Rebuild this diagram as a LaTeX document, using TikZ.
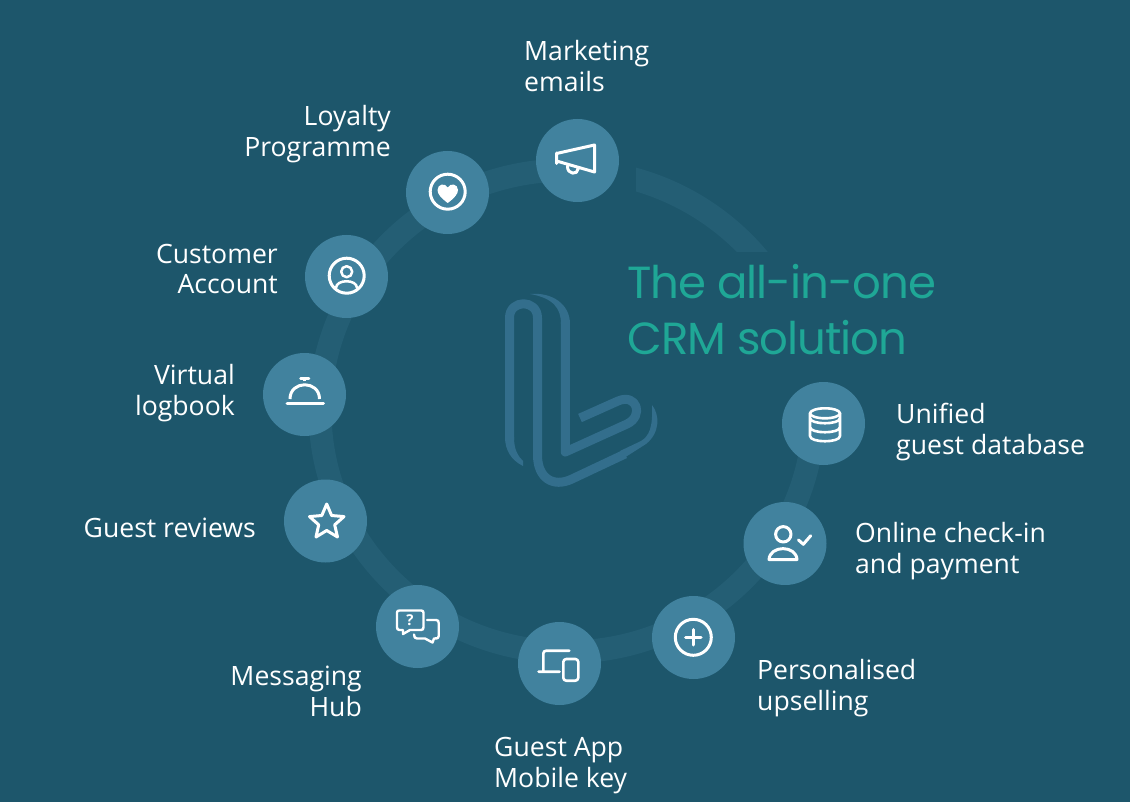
\documentclass[tikz,border=0pt]{standalone}
\usepackage{fontspec}
\setmainfont{Open Sans}
\newfontfamily\titlefont{Poppins}[LetterSpace=-2.2]
\definecolor{bgc}{RGB}{29,86,107}
\definecolor{ringc}{RGB}{36,94,116}
\definecolor{circc}{RGB}{65,130,158}
\definecolor{logoc}{RGB}{51,110,140}
\definecolor{titlec}{RGB}{31,167,150}
\tikzset{
  disc/.style={circle,fill=circc,minimum size=83pt,inner sep=0pt,draw=none},
  lab/.style={text=white,font=\fontsize{26.6}{31}\selectfont,inner sep=0pt},
  labl/.style={lab,anchor=west,align=left},
  labr/.style={lab,anchor=east,align=right},
  titl/.style={text=titlec,font=\titlefont\fontsize{45}{54}\selectfont,inner sep=0pt,anchor=base west},
  icon/.style={draw=white,line width=3pt,line cap=round,line join=round},
  logostroke/.style={draw=logoc,line width=9pt,line cap=butt,line join=round}
}
\begin{document}
\begin{tikzpicture}[x=1pt,y=-1pt]
\useasboundingbox (0,0) rectangle (1130,802);
\fill[bgc] (0,0) rectangle (1130,802);
% ring
\begin{scope}
\clip (0,0) rectangle (610,802) (636,0) rectangle (1130,252) (610,420) rectangle (1130,802);
\draw[ringc,line width=23pt] (567,411) ellipse[x radius=247,y radius=241];
\end{scope}
% logo
\draw[logostroke] (509.5,440) -- (509.5,318) .. controls (509.5,299) and (537.5,299) .. (537.5,318)
  -- (537.5,455) .. controls (537.5,478) and (553,488) .. (572,479) -- (625,454);
\fill[logoc] (505,437) -- (514,437) .. controls (514,450) and (518,456) .. (523,461) -- (523,466) .. controls (511,460) and (505,450) .. (505,437) -- cycle;
\fill[logoc] (530,294) .. controls (552,292) and (570,304) .. (570,324) -- (561,324) .. controls (561,308) and (553,298) .. (530,294) -- cycle;
\draw[logostroke] (565.3,322) -- (565.3,452) -- (627,424) .. controls (644,416) and (637,393) .. (618,401) -- (580,418);
\fill[logoc] (620,451) -- (641,441) .. controls (649,436) and (653,428) .. (652,405) .. controls (660,415) and (660,433) .. (646,444) -- (624,458) -- cycle;
% discs
\node[disc] (mkt) at (577.5,160.5) {};
\node[disc] (loy) at (447.5,192.5) {};
\node[disc] (acc) at (346.5,276.5) {};
\node[disc] (vir) at (304.5,394.5) {};
\node[disc] (rev) at (325.5,521) {};
\node[disc] (msg) at (417.5,626.5) {};
\node[disc] (app) at (559.5,663.5) {};
\node[disc] (ups) at (693.5,637.5) {};
\node[disc] (chk) at (785,543.5) {};
\node[disc] (uni) at (823.5,423.5) {};
% megaphone
\draw[icon] (556.5,153) -- (556.5,163.5) (556.5,153.5) -- (594.5,145) -- (594.5,172) -- (556.5,161)
  (567.5,166) .. controls (567,175) and (578,175) .. (578,169);
% heart
\draw[icon] (447.7,191.7) circle[radius=17.5];
\fill[white] (447.7,203) .. controls (441,198) and (437.5,194) .. (437.5,190) .. controls (437.5,184) and (445,182.5) .. (447.7,187.5) .. controls (450.4,182.5) and (458,184) .. (458,190) .. controls (458,194) and (454.4,198) .. (447.7,203) -- cycle;
% account
\draw[icon] (346.7,275.7) circle[radius=17.5];
\draw[icon,line width=2.5pt] (346.7,271.7) circle[radius=5.5];
\draw[icon,line width=2.5pt] (336,288) .. controls (336,279) and (357,279) .. (357,288);
% bell
\draw[icon,line width=3pt] (287,403.5) -- (323.5,403.5);
\draw[icon,line width=3pt,line cap=butt] (290,399) .. controls (290,380) and (319.5,380) .. (319.5,399);
\draw[icon,line width=2.5pt,line cap=butt] (304.7,381) -- (304.7,378.5);
\draw[icon,line width=2.5pt] (300.5,378.5) -- (309,378.5);
% star
\draw[icon] (326.7,504) -- (331.6,515.5) -- (344,516.6) -- (334.7,524.8) -- (337.5,537) -- (326.7,530.5) -- (316,537) -- (318.7,524.8) -- (309.5,516.6) -- (321.8,515.5) -- cycle;
% chat
\draw[icon,line width=2.4pt] (399.5,610.5) -- (421,610.5) .. controls (423,610.5) and (423.5,611) .. (423.5,613) -- (423.5,627) .. controls (423.5,629) and (423,630) .. (421,630) -- (410,630) -- (403,634) -- (403,630) -- (399.5,630) .. controls (397.5,630) and (397,629) .. (397,627) -- (397,613) .. controls (397,611) and (397.5,610.5) .. (399.5,610.5) -- cycle;
\node[text=white,inner sep=0pt,font=\bfseries\fontsize{15}{15}\selectfont] (q) at (410,620) {?};
\draw[icon,line width=2.4pt] (427,620) -- (436,620) .. controls (438,620) and (438.7,621) .. (438.7,623) -- (438.7,636) .. controls (438.7,638) and (438,638.5) .. (434,638.5) -- (432.5,642.5) -- (425,638.5) -- (417,638.5) .. controls (415,638.5) and (414,637) .. (414,634.5);
% devices
\draw[icon,line width=2.6pt] (538.5,671.7) -- (559.5,671.7) (543.3,671.7) -- (543.3,653.5) .. controls (543.3,651.5) and (544.5,650.7) .. (546.5,650.7) -- (569.3,650.7);
\draw[icon,line width=2.6pt,rounded corners=3pt] (563.3,659) rectangle (578.3,680.7);
% database
\draw[icon,line width=2.6pt] (825,413.3) ellipse[x radius=15,y radius=5];
\draw[icon,line width=2.6pt] (810,413.3) -- (810,436) .. controls (810,443) and (840,443) .. (840,436) -- (840,413.3)
  (810,418) .. controls (810,425) and (840,425) .. (840,418)
  (810,427) .. controls (810,434) and (840,434) .. (840,427);
% check-in
\draw[icon] (783.3,534.3) circle[radius=7.7];
\draw[icon] (769,559.5) -- (797,559.5) .. controls (796,545) and (770,545) .. (769,559.5) -- cycle;
\draw[icon] (798.5,540) -- (803.3,544.3) -- (810.7,535.7);
% plus
\draw[icon] (693.3,637.3) circle[radius=18];
\draw[icon] (685.5,637.3) -- (701,637.3) (693.3,629.5) -- (693.3,645);
% title
\node[titl] (t1) at (627,299) {The all-in-one};
\node[titl] (t2) at (627,354) {CRM solution};
% labels
\node[labl] (lmkt) at (524,66.5) {Marketing\\emails};
\node[labr] (lloy) at (391,134) {Loyalty\\Programme};
\node[labr] (lacc) at (278,269) {Customer\\Account};
\node[labr] (lvir) at (235,393) {Virtual\\logbook};
\node[labr] (lrev) at (256,528) {Guest reviews};
\node[labr] (lmsg) at (362,691) {Messaging\\Hub};
\node[labl] (lapp) at (494,765.5) {Guest App\\Mobile key};
\node[labl] (lups) at (757,688) {Personalised\\upselling};
\node[labl] (lchk) at (855,551) {Online check-in\\and payment};
\node[labl] (luni) at (896,432) {Unified\\guest database};
\end{tikzpicture}
\end{document}
